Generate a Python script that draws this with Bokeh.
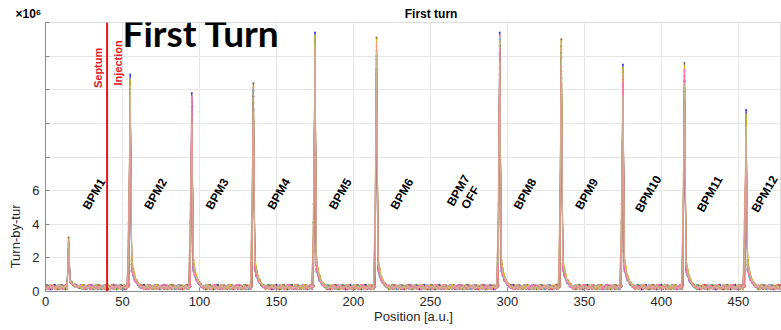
import math
from bokeh.plotting import figure
from bokeh.models import ColumnDataSource, Label, FixedTicker, Range1d, Span
from bokeh.core.properties import value
from bokeh.embed import file_html
from bokeh.resources import INLINE

# ---------------- data ----------------
bpm_pos = [15, 55, 95, 135, 175, 215, 295, 335, 375, 415, 455]
bpm_label_x = [31.5, 71.5, 111.5, 151.5, 191.5, 231.5, 272, 311.5, 351.5, 391.5, 431.5, 467]
bpm_label_text = ["BPM1", "BPM2", "BPM3", "BPM4", "BPM5", "BPM6", "BPM7\nOFF",
                  "BPM8", "BPM9", "BPM10", "BPM11", "BPM12"]
septum_x = 40

# peak amplitude [x1e6] of each trace at each working BPM
peaks = [
    [2.9, 12.1, 11.0, 11.6, 14.2, 13.8, 14.6, 13.9, 12.6, 12.5, 9.6],
    [3.2, 11.4, 10.2, 12.4, 13.1, 15.1, 13.8, 15.0, 11.8, 13.6, 8.9],
    [2.5, 12.9, 11.8, 10.8, 15.4, 12.9, 15.4, 12.7, 13.5, 11.9, 10.8],
    [2.7, 10.6, 9.8, 11.9, 12.8, 14.0, 12.9, 14.2, 10.9, 12.8, 8.2],
    [2.2, 11.8, 11.3, 10.1, 13.9, 13.2, 14.1, 13.1, 12.2, 11.3, 9.9],
    [3.0, 9.9, 10.7, 12.0, 14.8, 14.6, 15.0, 13.6, 13.0, 13.1, 7.6],
    [2.4, 12.4, 9.5, 11.2, 12.2, 12.4, 13.3, 14.6, 11.4, 12.1, 10.2],
    [2.8, 11.0, 11.5, 9.6, 13.5, 14.3, 14.4, 12.3, 12.8, 10.7, 9.1],
    [2.6, 12.6, 10.4, 12.2, 15.2, 15.0, 14.9, 14.9, 13.3, 13.4, 10.5],
    [3.1, 11.7, 11.6, 11.4, 14.5, 14.8, 15.2, 14.4, 12.9, 12.9, 9.4],
    [2.3, 10.8, 10.9, 12.1, 13.7, 13.6, 14.2, 13.4, 12.4, 13.2, 8.6],
    [2.9, 12.2, 9.9, 10.6, 14.0, 14.1, 13.6, 14.0, 11.6, 12.3, 9.8],
]
# value one sample before the peak (rising edge)
lead = [0.3, 2.4, 0.3, 4.1, 0.3, 1.2, 0.3, 3.0, 0.3, 5.2, 0.3, 1.8]
# decay after each peak (samples p+1 .. p+7)
tails = [
    [1.6, 1.1, 0.80, 0.60, 0.46, 0.36, 0.30],
    [1.8, 1.2, 0.85, 0.62, 0.48, 0.35, 0.29],
    [1.3, 0.95, 0.70, 0.55, 0.42, 0.33, 0.27],
    [1.5, 1.0, 0.75, 0.58, 0.45, 0.34, 0.28],
    [1.9, 1.3, 0.90, 0.65, 0.50, 0.38, 0.31],
    [1.2, 0.90, 0.66, 0.52, 0.41, 0.32, 0.26],
    [1.7, 1.15, 0.82, 0.60, 0.47, 0.36, 0.29],
    [1.4, 1.0, 0.72, 0.56, 0.44, 0.33, 0.27],
    [2.1, 1.4, 0.95, 0.68, 0.52, 0.39, 0.31],
    [1.55, 1.05, 0.78, 0.59, 0.45, 0.35, 0.28],
    [1.25, 0.92, 0.68, 0.53, 0.42, 0.32, 0.27],
    [1.75, 1.2, 0.86, 0.63, 0.48, 0.37, 0.30],
]
tail_bpm1 = [0.62, 0.50, 0.42, 0.36, 0.32, 0.29, 0.27]
baseline = [0.26, 0.19, 0.33, 0.24, 0.14, 0.30, 0.37, 0.22, 0.17, 0.28, 0.35, 0.21,
            0.25, 0.13, 0.31, 0.23, 0.39, 0.18, 0.27, 0.22, 0.32, 0.16, 0.29, 0.24,
            0.20, 0.36, 0.25, 0.15, 0.30, 0.22, 0.34, 0.19, 0.26, 0.38, 0.17, 0.23,
            0.31, 0.21, 0.28, 0.14, 0.33, 0.25, 0.20, 0.29, 0.23, 0.35, 0.18, 0.27]
colors = ["#202020", "#8c5a3c", "#3030e0", "#2ca02c", "#e0312b", "#1fc0d0",
          "#7a8a20", "#e632e6", "#d4c21a", "#f0a080", "#ff70b0", "#c8b890"]
x_ticks = [0, 50, 100, 150, 200, 250, 300, 350, 400, 450]
y_ticks = [0, 2, 4, 6, 8, 10, 12, 14, 16]
y_tick_labels = {0: "0", 2: "2", 4: "4", 6: "6", 8: "", 10: "", 12: "", 14: "", 16: ""}

# ---------------- build traces ----------------
xs = list(range(0, 479))
traces = []
for k in range(len(peaks)):
    ys = [baseline[(i + 5 * k) % len(baseline)] for i in xs]
    for j, p in enumerate(bpm_pos):
        ys[p] = peaks[k][j]
        if j > 0:
            ys[p - 1] = max(ys[p - 1], lead[k])
        tl = tail_bpm1 if j == 0 else tails[k]
        for m, t in enumerate(tl):
            if p + 1 + m < len(ys):
                ys[p + 1 + m] = t + (baseline[(p + m + 3 * k) % len(baseline)] - 0.25) * 0.5
    traces.append(ys)

# ---------------- figure ----------------
FONT = "Liberation Sans"
NB = "\u00a0"
p = figure(width=781, height=330, output_backend="svg", toolbar_location=None,
           x_range=Range1d(0, 478), y_range=Range1d(0, 16),
           min_border_left=45, min_border_right=0, min_border_top=22,
           min_border_bottom=39)
p.background_fill_color = "white"
p.border_fill_color = "white"
p.outline_line_color = "#dcdcdc"

# title row: the "x10^6" exponent at the far left, "First turn" over the plot
p.title.text = "×10⁶" + NB * 109 + "First turn"
p.title.align = "left"
p.title.offset = -30
p.title.text_font = FONT
p.title.text_font_size = "12px"
p.title.text_font_style = "bold"
p.title.text_color = "black"
p.title.standoff = 4

for k, ys in enumerate(traces):
    p.line(xs, ys, line_color=colors[k], line_width=1, line_alpha=0.85)
    p.scatter(xs, ys, size=2.2, fill_color=colors[k], line_color=None, fill_alpha=0.8)

# axes
p.xaxis.ticker = FixedTicker(ticks=x_ticks)
p.yaxis.ticker = FixedTicker(ticks=y_ticks)
p.yaxis.major_label_overrides = y_tick_labels
for ax in (p.xaxis[0], p.yaxis[0]):
    ax.axis_line_color = "#8c8c8c"
    ax.major_tick_line_color = "#8c8c8c"
    ax.major_tick_in = 4
    ax.major_tick_out = 0
    ax.minor_tick_line_color = None
    ax.major_label_text_font = FONT
    ax.major_label_text_font_size = "13px"
    ax.major_label_text_color = "#262626"
p.xaxis.axis_label = "Position [a.u.]"
p.xaxis.axis_label_text_font = FONT
p.xaxis.axis_label_text_font_size = "13px"
p.xaxis.axis_label_text_font_style = "normal"
p.xaxis.axis_label_text_color = "#262626"
p.xaxis.axis_label_standoff = 0
p.xaxis.major_label_standoff = 5
p.yaxis.axis_label = "Turn-by-tur" + NB * 44
p.yaxis.axis_label_text_font = FONT
p.yaxis.axis_label_text_font_size = "13px"
p.yaxis.axis_label_text_font_style = "normal"
p.yaxis.axis_label_text_color = "#262626"
p.yaxis.axis_label_standoff = 6
p.yaxis.major_label_standoff = 6
p.grid.grid_line_color = "#e6e6e6"

# septum line
p.add_layout(Span(location=septum_x, dimension="height", line_color="#e3161e",
                  line_width=2))

# BPM labels
src = ColumnDataSource(dict(x=bpm_label_x, y=[5.8] * len(bpm_label_x), text=bpm_label_text))
p.text("x", "y", text="text", source=src, angle=math.radians(60),
       text_align="center", text_baseline="middle", text_font=value(FONT),
       text_font_style="bold", text_font_size="12px", text_color="black",
       text_line_height=1.0)

p.text([34.2], [13.3], text=["Septum"], angle=math.pi / 2, text_align="center",
       text_baseline="middle", text_font=value(FONT), text_font_style="bold",
       text_font_size="11px", text_color="#e3161e")
p.text([47.2], [13.6], text=["Injection"], angle=math.pi / 2, text_align="center",
       text_baseline="middle", text_font=value(FONT), text_font_style="bold",
       text_font_size="11px", text_color="#e3161e")

# overlay text
p.add_layout(Label(x=50, y=15.4, text="First Turn", text_font="Lato",
                   text_font_style="bold", text_font_size="37px", text_color="black",
                   text_baseline="alphabetic", text_align="left"))

open("out.html", "w").write(file_html(p, INLINE))
